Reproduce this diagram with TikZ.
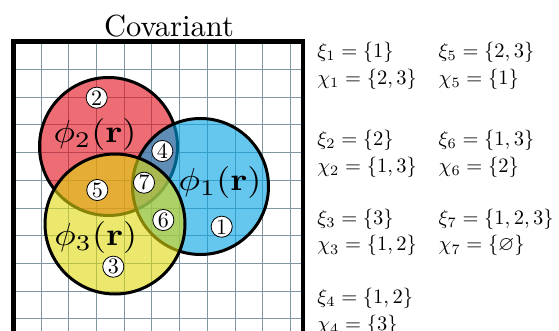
\RequirePackage{fix-cm}
\documentclass[tikz,border=0pt]{standalone}
\usepackage{amsmath,amssymb}
\usepackage{xcolor}
\usetikzlibrary{positioning}
\definecolor{setred}{RGB}{227,10,22}
\definecolor{setblue}{RGB}{0,163,227}
\definecolor{setyellow}{RGB}{222,217,13}
\definecolor{gridgray}{RGB}{128,152,162}

\begin{document}
\begin{tikzpicture}[x=1pt, y=-1pt,
    region/.style={circle, draw=black, line width=3pt, fill opacity=0.6, inner sep=0pt},
    tag/.style={circle, draw=black, line width=0.8pt, fill=white, minimum size=9.6pt, inner sep=0pt, scale=2.2},
    orbital/.style={inner sep=0pt, xscale=3.6, yscale=3.2},
    setlabel/.style={anchor=west, inner sep=0pt, scale=2.05}
]
    \clip (0,0) rectangle (559,331);
    \fill[white] (0,0) rectangle (559,331);

    % grid
    \foreach \k in {1,...,10} {
        \draw[gridgray, line width=0.8pt] ({13.3+27.7*\k},41.7) -- ({13.3+27.7*\k},335);
        \draw[gridgray, line width=0.8pt] (13.3,{41.7+27.7*\k}) -- (303,{41.7+27.7*\k});
    }

    % the three orbitals
    \node[region, fill=setred, minimum size=138pt] (phi2) at (108.5,146.5) {};
    \node[region, fill=setblue, minimum size=136pt] (phi1) at (200.5,186.5) {};
    \node[region, fill=setyellow, minimum size=140pt] (phi3) at (115,224) {};

    \node[orbital] (lab2) at (95,134.5) {$\phi_2(\mathbf{r})$};
    \node[orbital] (lab1) at (220,182.5) {$\phi_1(\mathbf{r})$};
    \node[orbital] (lab3) at (95.8,237.5) {$\phi_3(\mathbf{r})$};

    \node[tag] (n1) at (221.7,226.7) {1};
    \node[tag] (n2) at (96.7,97.7) {2};
    \node[tag] (n3) at (113.3,266.7) {3};
    \node[tag] (n4) at (162.3,151) {4};
    \node[tag] (n5) at (97.3,190) {5};
    \node[tag] (n6) at (163.3,220) {6};
    \node[tag] (n7) at (144,182.7) {7};

    % frame and title
    \draw[black, line width=4.5pt] (13.5,340) -- (13.5,41.7) -- (303,41.7) -- (303,340);
    \node[anchor=base, inner sep=0pt, scale=3.05] (title) at (169,36.7) {Covariant};

    % index sets
    \node[setlabel] (xi1) at (317,52.5) {$\xi_1 = \{1\}$};
    \node[setlabel] (chi1) at (317,79) {$\chi_1 = \{2,3\}$};
    \node[setlabel] (xi2) at (317,140.8) {$\xi_2 = \{2\}$};
    \node[setlabel] (chi2) at (317,167.5) {$\chi_2 = \{1,3\}$};
    \node[setlabel] (xi3) at (317,219) {$\xi_3 = \{3\}$};
    \node[setlabel] (chi3) at (317,245.8) {$\chi_3 = \{1,2\}$};
    \node[setlabel] (xi4) at (317,298.5) {$\xi_4 = \{1,2\}$};
    \node[setlabel] (chi4) at (317,325) {$\chi_4 = \{3\}$};

    \node[setlabel] (xi5) at (438.3,52.5) {$\xi_5 = \{2,3\}$};
    \node[setlabel] (chi5) at (438.3,79) {$\chi_5 = \{1\}$};
    \node[setlabel] (xi6) at (438.3,140.8) {$\xi_6 = \{1,3\}$};
    \node[setlabel] (chi6) at (438.3,167.5) {$\chi_6 = \{2\}$};
    \node[setlabel] (xi7) at (438.3,219) {$\xi_7 = \{1,2,3\}$};
    \node[setlabel] (chi7) at (438.3,245.8) {$\chi_7 = \{\varnothing\}$};
\end{tikzpicture}
\end{document}
